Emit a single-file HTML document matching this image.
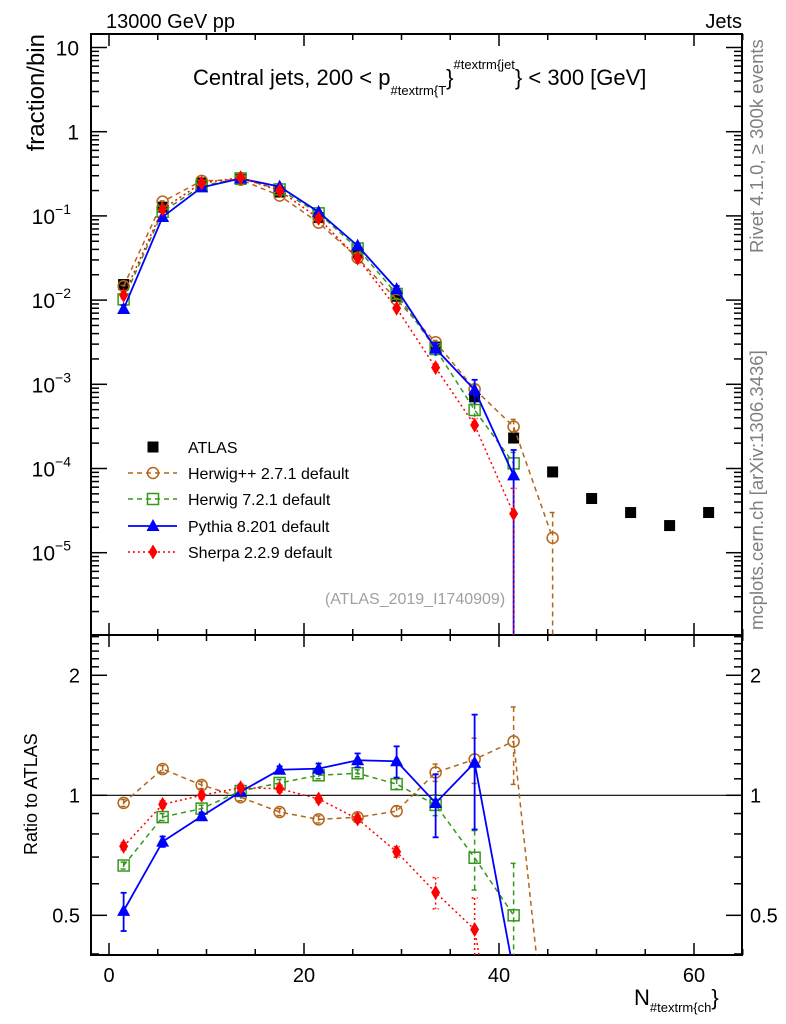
<!DOCTYPE html>
<html><head><meta charset="utf-8"><style>
html,body{margin:0;padding:0;background:#fff;overflow:hidden;width:786px;height:1024px;}
svg{display:block;font-family:"Liberation Sans",sans-serif;}
</style></head><body>
<svg id="chart" width="786" height="1024" viewBox="0 0 786 1024" xmlns="http://www.w3.org/2000/svg">
<rect width="786" height="1024" fill="#fff"/>
<text x="106" y="28" font-size="20">13000 GeV pp</text>
<text x="742" y="28" font-size="20" text-anchor="end">Jets</text>
<text x="193" y="85" font-size="22">Central jets, 200 &lt; p<tspan font-size="13" dy="10">#textrm{T</tspan><tspan dy="-10">}</tspan><tspan font-size="13" dy="-16">#textrm{jet</tspan><tspan dy="16">} &lt; 300 [GeV]</tspan></text>
<text transform="translate(44,34) rotate(-90)" font-size="24" text-anchor="end">fraction/bin</text>
<text transform="translate(37,855) rotate(-90)" font-size="18">Ratio to ATLAS</text>
<text x="634" y="1005" font-size="22">N<tspan font-size="13" dy="7">#textrm{ch</tspan><tspan font-size="22" dy="-7">}</tspan></text>
<text transform="translate(763,253) rotate(-90)" font-size="18.5" fill="#808080">Rivet 4.1.0, ≥ 300k events</text>
<text transform="translate(763,630) rotate(-90)" font-size="18.5" fill="#808080">mcplots.cern.ch [arXiv:1306.3436]</text>
<text x="415" y="604" font-size="16" fill="#a0a0a0" text-anchor="middle">(ATLAS_2019_I1740909)</text>
<g id="axes"></g>
<g id="marks"></g>
<g id="legend"></g>
</svg>
<script>
const bins = [1.5,5.5,9.5,13.5,17.5,21.5,25.5,29.5,33.5,37.5,41.5,45.5,49.5,53.5,57.5,61.5];
const atlasValues = [0.0153,0.127,0.246,0.272,0.192,0.0955,0.0361,0.0111,0.00277,0.00071,0.00023,9.1e-5,4.4e-5,3.0e-5,2.1e-5,3.0e-5];
const herwigppValues = [0.01464,0.1478,0.261,0.269,0.1743,0.0831,0.0318,0.01013,0.00316,0.000874,0.000314,1.5e-5];
const herwigppErr = [0.02,0.02,0.02,0.02,0.02,0.02,0.02,0.03,0.05,0.13,0.22,1.0];
const herwig7Values = [0.0102,0.112,0.2278,0.2788,0.2062,0.1072,0.0410,0.01184,0.00262,0.000495,0.000115];
const herwig7Err = [0.02,0.02,0.02,0.02,0.02,0.02,0.02,0.03,0.06,0.17,0.35];
const pythiaValues = [0.00785,0.0972,0.218,0.2777,0.2225,0.1114,0.0442,0.01351,0.00265,0.000857,8.3e-5];
const pythiaErr = [0.11,0.03,0.02,0.02,0.02,0.03,0.04,0.09,0.18,0.32,1.0];
const sherpaValues = [0.0114,0.1205,0.246,0.2842,0.1995,0.0935,0.0315,0.00801,0.00158,0.000327,2.9e-5];
const sherpaErr = [0.02,0.02,0.02,0.02,0.02,0.02,0.02,0.03,0.09,0.2,1.0];
const xTicks = [0,20,40,60];
const ratioTicks = [0.5,1,2];

const NS="http://www.w3.org/2000/svg";
const L=91,R=742,MT=34,MB=635,RB=955;
const RMIN=0.39,RMAX=2.55;
const xs=v=>109+9.75*v;
const ym=v=>131.7-84.2*Math.log10(v);
const yr=v=>795.3-398.7*Math.log10(v);
const axes=document.getElementById('axes'),marks=document.getElementById('marks'),leg=document.getElementById('legend');
function mk(tag,attrs,parent){const e=document.createElementNS(NS,tag);for(const k in attrs)e.setAttribute(k,attrs[k]);parent.appendChild(e);return e;}
function line(x1,y1,x2,y2,p,st){return mk('line',Object.assign({x1,y1,x2,y2,stroke:'#000','stroke-width':1.5},st||{}),p);}

let f1=mk('rect',{x:L,y:MT,width:R-L,height:MB-MT,fill:'none',stroke:'#000','stroke-width':2},axes);


let f2=mk('rect',{x:L,y:MB,width:R-L,height:RB-MB,fill:'none',stroke:'#000','stroke-width':2},axes);


for(let v=0;v<=65;v+=5){const x=xs(v);const len=v%20===0?12:6;
 [[MT,1],[MB,-1],[MB,1],[RB,-1]].forEach(([y,d])=>line(x,y,x,y+d*len,axes));}
xTicks.forEach(v=>{const t=mk('text',{x:xs(v),y:982,'font-size':20,'text-anchor':'middle'},axes);t.textContent=v;
 
 });
for(let d=-6;d<=1;d++){for(let m=1;m<=9;m++){const v=m*Math.pow(10,d);const y=ym(v);if(y<MT||y>MB)continue;
 const len=m===1?16:8;line(L,y,L+len,y,axes);line(R,y,R-len,y,axes);}}
const mainLbl=[[1,'10',''],[0,'1',''],[-1,'10','−1'],[-2,'10','−2'],[-3,'10','−3'],[-4,'10','−4'],[-5,'10','−5']];
mainLbl.forEach(([d,b,s])=>{const t=mk('text',{x:s?71:79,y:ym(Math.pow(10,d))+8,'font-size':21,'text-anchor':'end'},axes);
 
 
 t.textContent=b;if(s){const sp=mk('tspan',{'font-size':14,dy:-10},t);sp.textContent=s;}});
for(let i=4;i<=25;i++){const v=i/10;const y=yr(v);if(y<MB||y>RB)continue;const maj=ratioTicks.includes(v);const len=maj?16:8;
 line(L,y,L+len,y,axes);line(R,y,R-len,y,axes);}
ratioTicks.forEach(v=>{[[80,'end'],[750,'start']].forEach(([x,a])=>{const t=mk('text',{x,y:yr(v)+7,'font-size':20,'text-anchor':a},axes);t.textContent=v;
 
 });});
line(L,yr(1),R,yr(1),axes,{'stroke-width':1.2});

function marker(kind,x,y,col,p){
 if(kind==='sq')return mk('rect',{x:x-5.5,y:y-5.5,width:11,height:11,fill:'#000'},p);
 if(kind==='circ')return mk('circle',{cx:x,cy:y,r:5.5,fill:'none',stroke:col,'stroke-width':1.5},p);
 if(kind==='osq')return mk('rect',{x:x-5.5,y:y-5.5,width:11,height:11,fill:'none',stroke:col,'stroke-width':1.5},p);
 if(kind==='tri')return mk('polygon',{points:`${x},${y-7} ${x-6.5},${y+5} ${x+6.5},${y+5}`,fill:col},p);
 if(kind==='dia')return mk('polygon',{points:`${x},${y-7.5} ${x+4.5},${y} ${x},${y+7.5} ${x-4.5},${y}`,fill:col},p);
}
const series=[
 {name:'herwigpp',vals:herwigppValues,err:herwigppErr,col:'#b3661a',dash:'5,4',kind:'circ',w:1.5,label:'Herwig++ 2.7.1 default'},
 {name:'herwig7',vals:herwig7Values,err:herwig7Err,col:'#339919',dash:'5,4',kind:'osq',w:1.5,label:'Herwig 7.2.1 default'},
 {name:'pythia',vals:pythiaValues,err:pythiaErr,col:'#0000ff',dash:'',kind:'tri',w:1.8,label:'Pythia 8.201 default'},
 {name:'sherpa',vals:sherpaValues,err:sherpaErr,col:'#ff0000',dash:'2,3',kind:'dia',w:1.5,label:'Sherpa 2.2.9 default'}];
function clipPath(id,y1,y2){const cp=mk('clipPath',{id},marks);mk('rect',{x:L,y:y1,width:R-L,height:y2-y1},cp);}
clipPath('cm',MT,MB);clipPath('cr',MB,RB);
const gm=mk('g',{'clip-path':'url(#cm)'},marks),gr=mk('g',{'clip-path':'url(#cr)'},marks);
atlasValues.forEach((v,i)=>{const m=marker('sq',xs(bins[i]),ym(v),'#000',gm);
 
 });
series.forEach(s=>{
 const st={stroke:s.col,'stroke-width':s.w,fill:'none'};if(s.dash)st['stroke-dasharray']=s.dash;
 const ptsM=s.vals.map((v,i)=>`${xs(bins[i])},${ym(v)}`).join(' ');
 const lm=mk('polyline',Object.assign({points:ptsM},st),gm);
 
 
 const ratios=s.vals.map((v,i)=>v/atlasValues[i]);
 const ptsR=ratios.map((r,i)=>`${xs(bins[i])},${yr(r)}`).join(' ');
 const lr=mk('polyline',Object.assign({points:ptsR},st),gr);
 
 
 s.vals.forEach((v,i)=>{const x=xs(bins[i]);const e=s.err[i];
  const lo=Math.max(v*(1-e),1e-9),hi=v*(1+e);
  const est=Object.assign({},st);
  line(x,ym(hi),x,ym(lo),gm,est);line(x-3,ym(hi),x+3,ym(hi),gm,est);
  const r=ratios[i];
  if(r>=RMIN&&r<=RMAX){
   const rlo=Math.max(r*(1-e),1e-6),rhi=r*(1+e);
   line(x,yr(rhi),x,yr(rlo),gr,est);line(x-3,yr(rhi),x+3,yr(rhi),gr,est);
   if(e<1)line(x-3,yr(rlo),x+3,yr(rlo),gr,est);
  }
  const m1=marker(s.kind,x,ym(v),s.col,gm);
  
  
  const m2=marker(s.kind,x,yr(r),s.col,gr);
  
  
 });
});

const ly=[447,473,499,526,552];
let lt=mk('text',{x:188,y:ly[0]+6,'font-size':16},leg);lt.textContent='ATLAS';


marker('sq',153,ly[0],'#000',leg);
series.forEach((s,k)=>{const y=ly[k+1];const st={stroke:s.col,'stroke-width':s.w};if(s.dash)st['stroke-dasharray']=s.dash;
 line(128,y,177,y,leg,st);marker(s.kind,153,y,s.col,leg);
 const t=mk('text',{x:188,y:y+6,'font-size':16},leg);t.textContent=s.label;
 
 });
</script>
</body></html>
